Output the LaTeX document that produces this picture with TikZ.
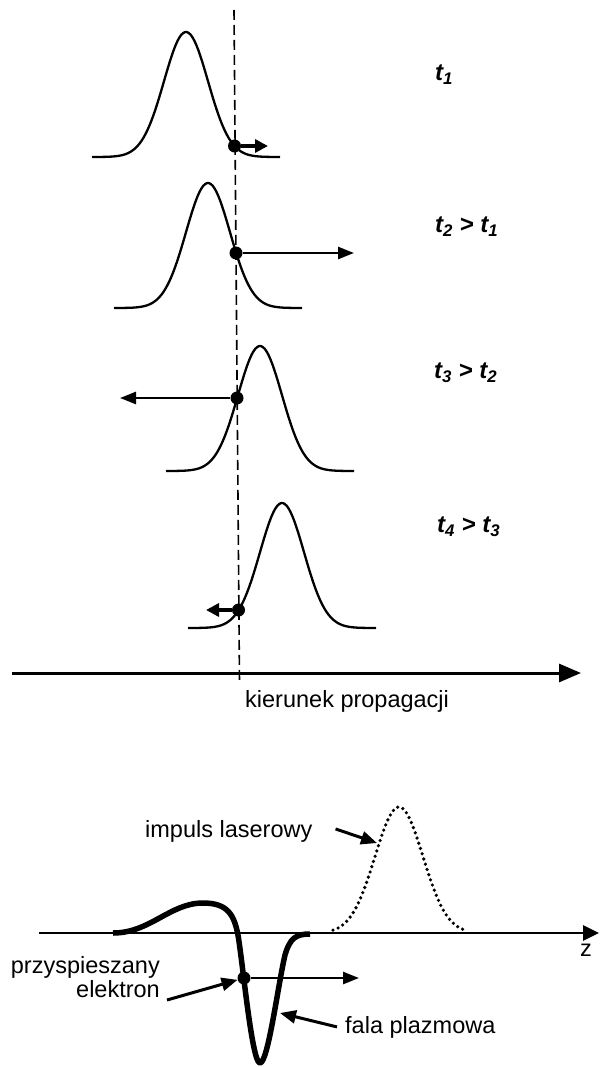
\documentclass[tikz,border=0pt]{standalone}
\usepackage{fontspec}
\setmainfont{Liberation Sans}
\usepackage{tikz}
\usetikzlibrary{arrows.meta}
\definecolor{ink}{HTML}{000000}
\tikzset{
  pulse/.style={line width=2.3pt, draw=ink, line join=round},
  probe/.style={circle, fill=ink, inner sep=0pt, minimum size=13pt},
  kick/.style={line width=2.5pt, draw=ink, -{Triangle[length=16pt,width=12pt]}},
  kickshort/.style={line width=3.5pt, draw=ink, -{Triangle[length=13pt,width=13pt]}},
  frontline/.style={line width=1.6pt, draw=ink, dash pattern=on 10pt off 5pt},
  axisline/.style={line width=3pt, draw=ink, -{Triangle[length=22pt,width=18pt]}},
  zaxis/.style={line width=2.8pt, draw=ink, -{Triangle[length=16pt,width=15pt]}},
  stamp/.style={font=\fontsize{24}{26}\selectfont\bfseries\itshape, anchor=west, inner sep=0pt},
  caption/.style={font=\fontsize{23.5}{24}\selectfont, inner sep=0pt},
  plasma/.style={line width=5.5pt, draw=ink, line join=round},
  laser/.style={line width=3.6pt, draw=ink, line cap=round, dash pattern=on 0pt off 5.5pt},
  pointer/.style={line width=3pt, draw=ink, -{Triangle[length=16pt,width=13pt]}}
}
% gaussian pulse: centre, baseline
\newcommand{\timepulse}[2]{%
  \draw[pulse] plot[domain=-94:94, samples=100] (\x+#1, {#2-125*exp(-0.5*(\x/22)^2)});
}
\newcommand{\tstamp}[2]{\textit{t}\textsubscript{\textit{#1}}\ifx&#2&\else\ >\ \textit{t}\textsubscript{\textit{#2}}\fi}

\begin{document}
\begin{tikzpicture}[x=1pt,y=-1pt]
\useasboundingbox (0,0) rectangle (608,1067);

% front of the pulse
\coordinate (fronttop) at (234,10);
\coordinate (frontbot) at (239.5,683);
\draw[frontline] (fronttop) -- (frontbot);

\timepulse{186}{157}
\timepulse{208}{308}
\timepulse{260}{471}
\timepulse{282}{628}

\node[probe] (p1) at (234.5,146) {};
\node[probe] (p2) at (236,253) {};
\node[probe] (p3) at (237,398) {};
\node[probe] (p4) at (238.5,610) {};

\coordinate (k1) at (268,146);
\coordinate (k2) at (354,253);
\coordinate (k3) at (120,398);
\coordinate (k4) at (206,610);
\draw[kickshort] (p1) -- (k1);
\draw[kick] (p2) -- (k2);
\draw[kick] (p3) -- (k3);
\draw[kickshort] (p4) -- (k4);

\node[stamp] (t1) at (435,75) {\tstamp{1}{}};
\node[stamp] (t2) at (435,227) {\tstamp{2}{1}};
\node[stamp] (t3) at (434,373) {\tstamp{3}{2}};
\node[stamp] (t4) at (437,527) {\tstamp{4}{3}};

\coordinate (axL) at (12,673);
\coordinate (axR) at (581,673);
\draw[axisline] (axL) -- (axR);
\node[caption, anchor=base west] (prop) at (245,707) {kierunek propagacji};

% wakefield
\coordinate (zL) at (39,933);
\coordinate (zR) at (599,933);
\draw[zaxis] (zL) -- (zR);
\node[caption, anchor=base] (zlabel) at (586,956) {z};

\draw[laser] plot[domain=-66:66, samples=120] (\x+399, {933-126*exp(-0.5*(\x/24)^2)});
\draw[plasma] (113,933) .. controls (150,933) and (170,903) .. (203,903)
  .. controls (228,903) and (234,915) .. (238,935)
  .. controls (243,965) and (252,1063) .. (260,1063)
  .. controls (268,1063) and (278,985) .. (285,955)
  .. controls (290,938) and (296,934) .. (310,934);

\node[probe] (ep) at (244,978) {};
\coordinate (ekick) at (359,978);
\draw[kick] (ep) -- (ekick);

\node[caption, anchor=base west] (laserlabel) at (145,837) {impuls laserowy};
\coordinate (laserhit) at (377,843);
\draw[pointer] ([xshift=23pt,yshift=2pt]laserlabel.east) -- (laserhit);

\node[caption, anchor=base east, align=right] (elabel) at (160,997) {przyspieszany\\elektron};
\draw[pointer] (167,1000) -- (ep);

\node[caption, anchor=base west] (falalabel) at (345,1033) {fala plazmowa};
\coordinate (plasmahit) at (280,1013);
\draw[pointer] ([xshift=-8pt]falalabel.west) -- (plasmahit);

\end{tikzpicture}
\end{document}
